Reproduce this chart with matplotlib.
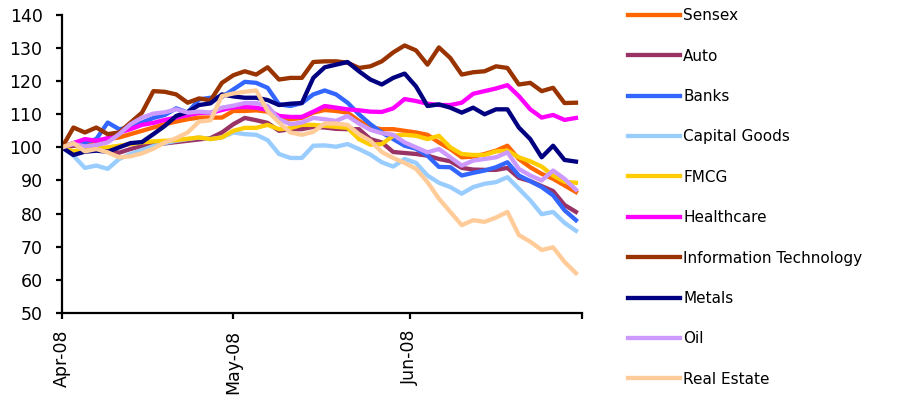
import numpy as np
import pandas as pd
import matplotlib
matplotlib.use("Agg")
import matplotlib.pyplot as plt
import matplotlib.dates as mdates

# sector indices rebased to 100 on 1 Apr 2008, read every second day
dates = pd.date_range("2008-04-01", "2008-06-30", freq="2D")

sensex = [100, 100.5, 100.8, 101.5, 102.5, 103, 104, 105, 106, 107, 107.8, 108.5, 109, 109, 109, 111,
          111, 111.2, 110.8, 108.5, 108.5, 108.9, 110.5, 111.3, 111, 110.5, 108, 106, 105.5, 105.5, 105,
          104.5, 103.8, 101.5, 99.5, 97, 97.2, 98, 99, 100.5, 96.5, 94, 92, 90.5, 88.5, 86.5]
auto = [100, 100.5, 100.5, 100, 99, 98.4, 99.5, 100.4, 100.8, 101.2, 101.6, 102, 102.4, 102.8, 104.5, 107,
        108.9, 108.2, 107.4, 105, 105.5, 105.5, 106.2, 106, 105.6, 105.5, 105.5, 102.5, 101.5, 98.6, 98.3,
        98, 97.5, 96.5, 95.8, 93.8, 93.3, 93.2, 93.2, 93.8, 90.8, 89.8, 88.3, 86.8, 82.6, 80.5]
banks = [100, 101.3, 101.5, 102.5, 107.5, 105.5, 106, 107.5, 108.9, 109.8, 111.8, 110.5, 114.5, 115, 115.2,
         117.5, 119.8, 119.5, 118, 113, 112.5, 113.4, 116, 117.2, 116, 113.5, 110, 107, 104.5, 102.5, 100.5,
         99.6, 97.5, 94.1, 94, 91.5, 92.3, 93, 94, 95.5, 91.5, 89.8, 88, 85.5, 81, 78]
capital_goods = [100, 97.5, 93.8, 94.5, 93.5, 96.5, 98, 99.2, 100.4, 101.3, 102, 102.5, 103, 102.5, 103, 104.5,
                 104, 103.8, 102.2, 98, 96.8, 96.8, 100.5, 100.6, 100.2, 101, 99.5, 97.8, 95.5, 94.2, 96.5,
                 95.3, 91.5, 89.3, 88, 86, 88, 89, 89.5, 91, 87.5, 84, 79.8, 80.5, 77.2, 74.8]
fmcg = [100, 98.8, 99.5, 99.8, 100, 100.5, 101, 101.5, 101.8, 102, 102.2, 102.6, 103, 102.5, 103, 105, 105.9,
        105.9, 106.8, 105.5, 105.8, 106.8, 106.8, 106.5, 106.2, 105.9, 102.5, 100.8, 101, 103.5, 103.8, 103.5,
        102.5, 103.5, 100, 98, 97.7, 97.7, 98.8, 99, 97, 95.8, 94.2, 91.5, 89.6, 89.3]
healthcare = [100, 101.3, 102.5, 102, 102.8, 104.5, 105.5, 106.8, 107.4, 108.3, 109, 109.7, 110.4, 110.4, 111.3,
              112.1, 112.2, 112, 111.3, 109.5, 109.2, 109.2, 110.8, 112.5, 112, 111.5, 111.2, 110.8, 110.7,
              111.8, 114.6, 114, 113.2, 112.8, 112.8, 113.5, 116.2, 117, 117.8, 118.8, 115.5, 111.5, 109,
              109.8, 108.3, 108.9]
info_tech = [100, 106, 104.5, 106, 104, 104.5, 107.5, 110.5, 117, 116.8, 116, 113.5, 114.8, 114.2, 119.5, 121.8,
             123, 122, 124.2, 120.5, 121, 121, 125.8, 126, 126, 125.6, 124, 124.5, 126, 128.7, 130.8, 129.3,
             125, 130.2, 127, 122, 122.7, 123, 124.5, 124, 119, 119.5, 117, 118, 113.4, 113.5]
metals = [100, 97.7, 98.7, 99, 98.7, 100, 101.3, 101.6, 104, 106.5, 109.5, 110.7, 112.8, 113.3, 116, 115.4, 115,
          115, 114.3, 112.8, 113.2, 113.4, 121, 124.2, 125, 125.8, 123, 120.5, 119, 121, 122.3, 118.4, 112.5,
          113, 112, 110.5, 112, 110, 111.5, 111.5, 106, 102.5, 97, 100.5, 96.2, 95.7]
oil = [100, 101, 100.3, 100.7, 101.5, 104, 107, 109, 110.2, 110.6, 111.5, 110.5, 110.8, 110.5, 112, 112.6, 113.4,
       113.4, 112.5, 108.5, 107, 107.5, 108.9, 108.5, 108, 109.5, 107.2, 105.3, 104.3, 103.8, 101.5, 100, 98.5,
       99.5, 97, 94.5, 96, 96.5, 97, 98.5, 93.5, 91.5, 90, 93, 90.5, 87.2]
real_estate = [100, 101.3, 98.8, 99.5, 98.5, 97, 97.3, 98.2, 99.6, 101.5, 102.8, 104.5, 107.8, 108.2, 115.5, 116.3,
               116.8, 117.2, 111, 107.5, 104.5, 103.8, 104.7, 107.2, 107.2, 106.8, 104, 102, 98.6, 96.8, 95.3,
               93.5, 89.5, 84.5, 80.5, 76.5, 78, 77.5, 78.8, 80.5, 73.5, 71.5, 69, 69.8, 65.4, 62]

series = [
    ("Sensex", sensex, "#FF6600"),
    ("Auto", auto, "#993366"),
    ("Banks", banks, "#3366FF"),
    ("Capital Goods", capital_goods, "#99CCFF"),
    ("FMCG", fmcg, "#FFCC00"),
    ("Healthcare", healthcare, "#FF00FF"),
    ("Information Technology", info_tech, "#993300"),
    ("Metals", metals, "#000080"),
    ("Oil", oil, "#CC99FF"),
    ("Real Estate", real_estate, "#FFCC99"),
]

plt.rcParams["font.family"] = "DejaVu Sans"

fig = plt.figure(figsize=(8.99, 3.95), dpi=100)
ax = fig.add_axes([0.069, 0.208, 0.578, 0.754])

for name, vals, col in series:
    ax.plot(dates, vals, color=col, lw=3.1, label=name, solid_joinstyle="round")

ax.set_ylim(50, 140)
ax.set_yticks(np.arange(50, 141, 10))
ax.set_xlim(pd.Timestamp("2008-04-01"), pd.Timestamp("2008-07-01"))
month_ticks = pd.to_datetime(["2008-04-01", "2008-05-01", "2008-06-01", "2008-07-01"])
ax.set_xticks(month_ticks)
ax.set_xticklabels(["Apr-08", "May-08", "Jun-08", ""], rotation=90)

for side in ["top", "right"]:
    ax.spines[side].set_visible(False)
for side in ["left", "bottom"]:
    ax.spines[side].set_linewidth(1.6)
ax.tick_params(axis="both", direction="out", width=1.6, labelsize=12.5)
ax.tick_params(axis="y", length=4.5, pad=9.5)
ax.tick_params(axis="x", length=4, pad=8)

fig.legend(loc="upper left", bbox_to_anchor=(0.6895, 1.0), frameon=False, fontsize=11,
           handlelength=3.4, handletextpad=0.2, labelspacing=1.66, borderaxespad=0.15)

fig.savefig("out.png", dpi=100)
